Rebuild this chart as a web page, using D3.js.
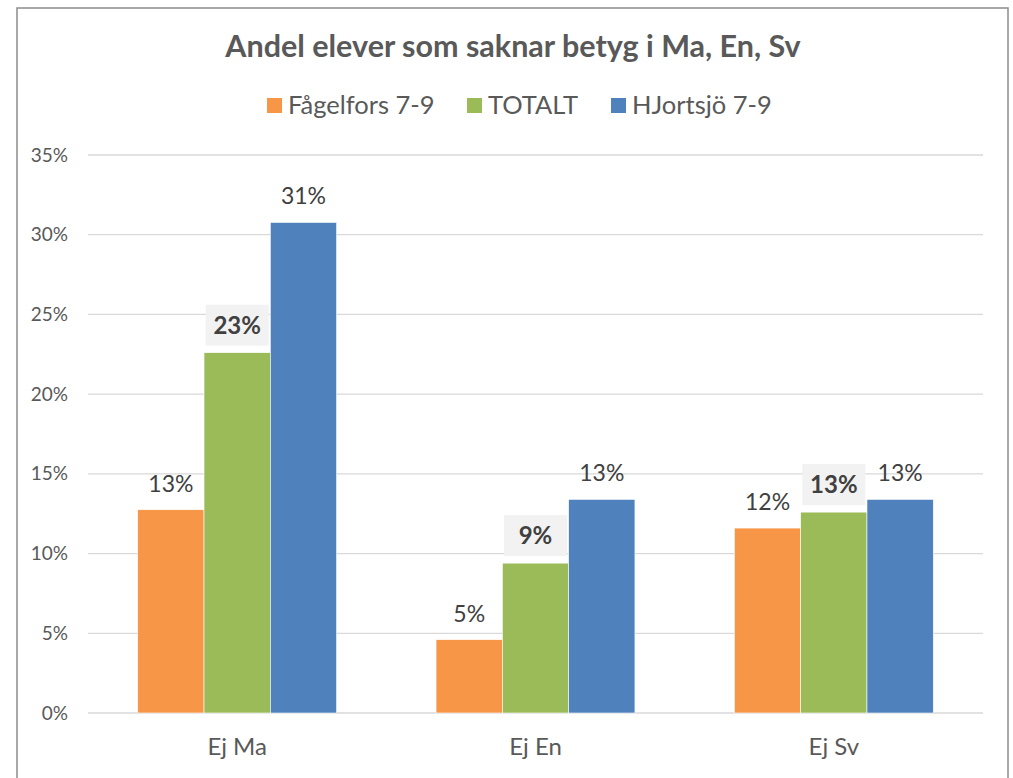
<!DOCTYPE html>
<html>
<head>
<meta charset="utf-8">
<script src="https://cdn.jsdelivr.net/npm/d3@7"></script>
<style>
  body { margin: 0; background: #fff; }
  text { font-family: Lato, "Open Sans", sans-serif; }
</style>
</head>
<body>
<svg></svg>
<script>
var width = 1013;
var height = 778;

var categories = ["Ej Ma", "Ej En", "Ej Sv"];
var seriesNames = ["Fågelfors 7-9", "TOTALT", "HJortsjö 7-9"];
var seriesColors = ["#F79646", "#9BBB59", "#4F81BD"];
var fagelfors = [0.1275, 0.046, 0.116];
var totalt = [0.226, 0.094, 0.126];
var hjortsjo = [0.3077, 0.134, 0.134];
var yTicks = [0, 0.05, 0.10, 0.15, 0.20, 0.25, 0.30, 0.35];

var seriesValues = [fagelfors, totalt, hjortsjo];

var margin = {top: 155, right: 30, bottom: 65, left: 88};

var svg = d3.select('svg')
	.attr('width', width)
	.attr('height', height);

// chart frame
svg.append('rect')
	.attr('x', 17)
	.attr('y', 8)
	.attr('width', 991)
	.attr('height', 800)
	.attr('fill', 'white')
	.attr('stroke', '#8c8c8c')
	.attr('stroke-width', 1.5);

var x0 = d3.scaleBand()
	.domain(categories)
	.range([margin.left, width - margin.right]);

var x1 = d3.scaleBand()
	.domain(seriesNames)
	.range([0, x0.bandwidth()])
	.paddingOuter(0.75);

var y = d3.scaleLinear()
	.domain([0, 0.35])
	.range([height - margin.bottom, margin.top]);

// gridlines
svg.append('g')
	.selectAll('line')
	.data(yTicks)
	.enter()
	.append('line')
		.attr('x1', margin.left)
		.attr('x2', width - margin.right)
		.attr('y1', d => y(d))
		.attr('y2', d => y(d))
		.attr('stroke', '#d9d9d9')
		.attr('stroke-width', 1.3);

// y axis
var yAxis = d3.axisLeft(y)
	.tickValues(yTicks)
	.tickFormat(d3.format('.0%'))
	.tickSize(0)
	.tickPadding(20);

svg.append('g')
	.attr('transform', 'translate(' + margin.left + ',0)')
	.call(yAxis)
	.call(g => g.select('.domain').remove())
	.selectAll('text')
		.attr('fill', '#595959')
		.attr('font-size', '19px')
		.style('font-family', 'Lato, sans-serif');

// x axis
var xAxis = d3.axisBottom(x0)
	.tickSize(0)
	.tickPadding(25);

svg.append('g')
	.attr('transform', 'translate(0,' + y(0) + ')')
	.call(xAxis)
	.call(g => g.select('.domain').remove())
	.selectAll('text')
		.attr('fill', '#595959')
		.attr('font-size', '24px')
		.style('font-family', 'Lato, sans-serif');

// bars
var rows = [];
categories.forEach((c, i) => {
	seriesNames.forEach((s, j) => {
		rows.push({cat: c, series: s, idx: j, value: seriesValues[j][i]});
	});
});

svg.append('g')
	.selectAll('rect')
	.data(rows)
	.enter()
	.append('rect')
		.attr('x', d => x0(d.cat) + x1(d.series))
		.attr('y', d => y(d.value))
		.attr('width', x1.bandwidth())
		.attr('height', d => y(0) - y(d.value))
		.attr('fill', d => seriesColors[d.idx])
		.attr('stroke', 'white')
		.attr('stroke-width', 0.6);

// labels
var fmt = d3.format('.0%');

var labels = svg.append('g')
	.selectAll('g')
	.data(rows)
	.enter()
	.append('g')
		.attr('transform', d => 'translate(' + (x0(d.cat) + x1(d.series) + x1.bandwidth() / 2) + ',' + y(d.value) + ')');

labels.filter(d => d.idx === 1)
	.append('rect')
		.attr('x', -31.5)
		.attr('y', -48)
		.attr('width', 63)
		.attr('height', 41)
		.attr('fill', '#f2f2f2');

labels.append('text')
	.attr('text-anchor', 'middle')
	.attr('y', d => d.idx === 1 ? -19 : -18)
	.attr('font-size', d => d.idx === 1 ? '24px' : '23px')
	.attr('font-weight', d => d.idx === 1 ? 'bold' : 'normal')
	.attr('fill', '#404040')
	.text(d => fmt(d.value));

// title
svg.append('text')
	.attr('x', 513)
	.attr('y', 57)
	.attr('text-anchor', 'middle')
	.attr('font-size', '30.5px')
	.attr('font-weight', 'bold')
	.attr('fill', '#595959')
	.text('Andel elever som saknar betyg i Ma, En, Sv');

// legend
var legendX = [267, 467, 611];
var legend = svg.append('g')
	.selectAll('g')
	.data(seriesNames)
	.enter()
	.append('g')
		.attr('transform', (d, i) => 'translate(' + legendX[i] + ',105)');

legend.append('rect')
	.attr('x', 0)
	.attr('y', -7)
	.attr('width', 15)
	.attr('height', 15)
	.attr('fill', (d, i) => seriesColors[i]);

legend.append('text')
	.attr('x', 21)
	.attr('y', 9)
	.attr('font-size', '25.5px')
	.attr('fill', '#595959')
	.text(d => d);
</script>
</body>
</html>
